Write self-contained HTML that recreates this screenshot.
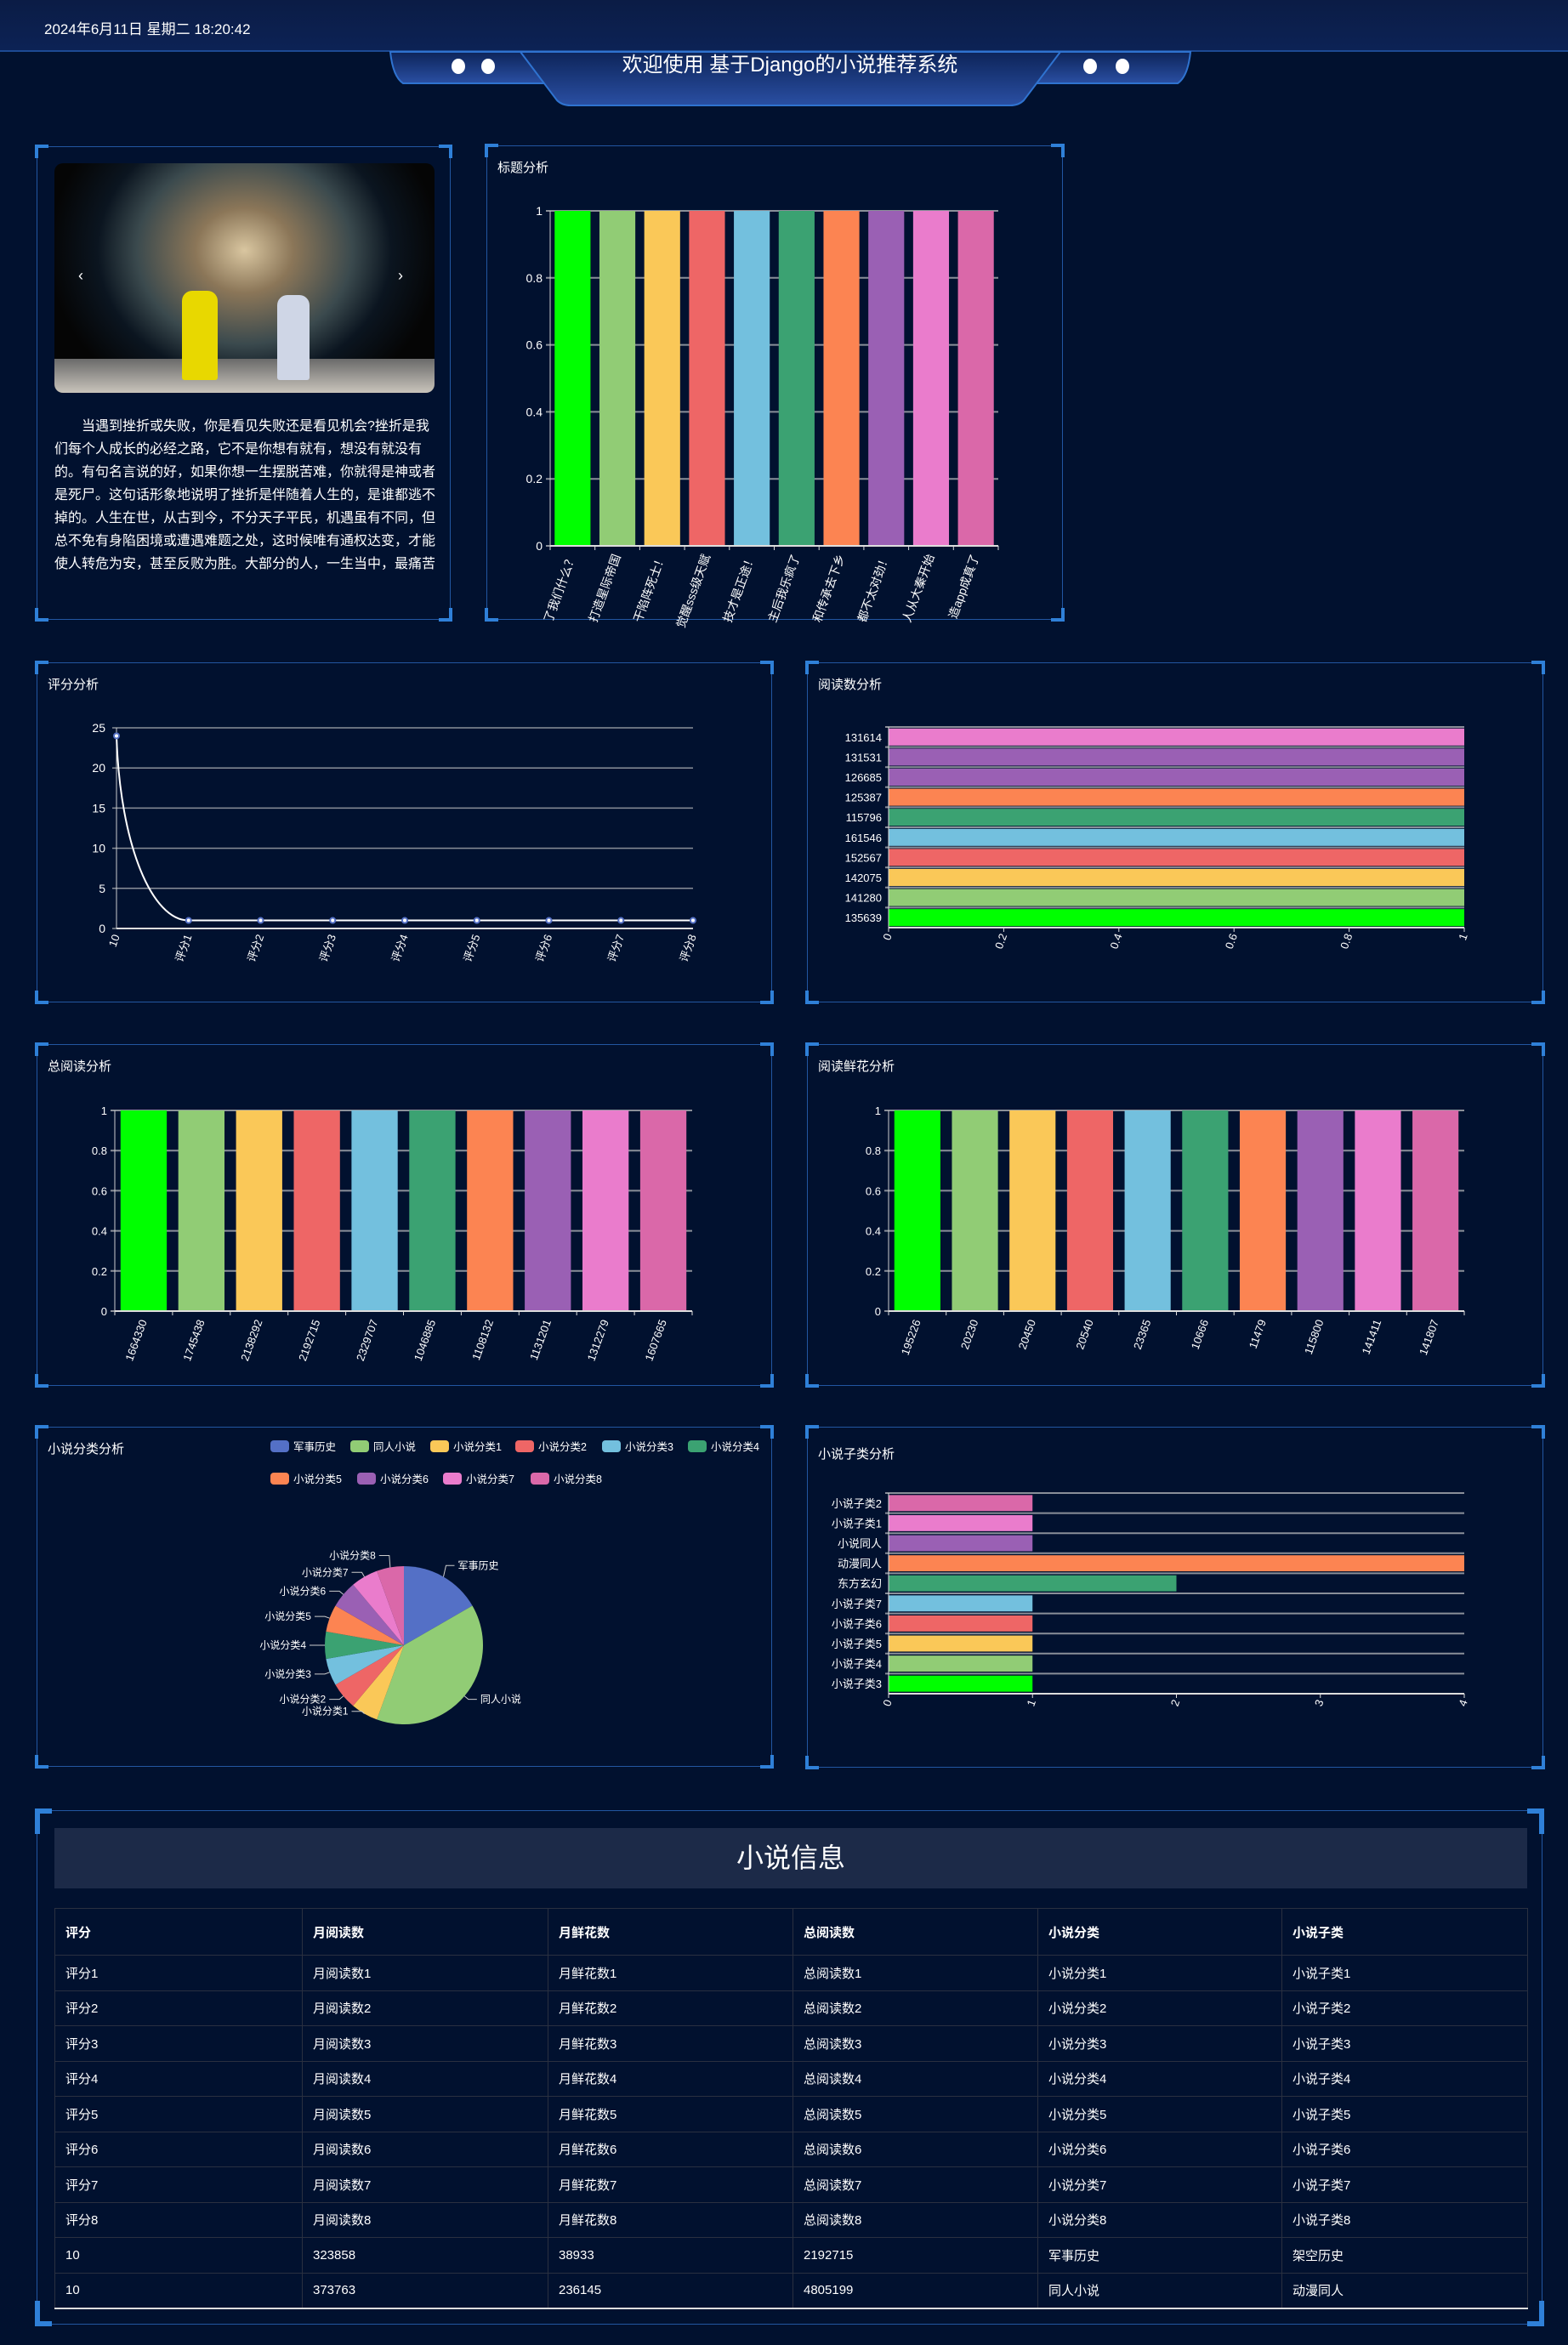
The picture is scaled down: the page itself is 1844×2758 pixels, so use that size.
<!DOCTYPE html>
<html><head><meta charset="utf-8">
<style>
*{margin:0;padding:0;box-sizing:border-box}
body{width:1844px;height:2758px;background:#01112f;font-family:"Liberation Sans","Noto Sans CJK SC",sans-serif;color:#fff;position:relative;overflow:hidden}
.abs{position:absolute}
.panel{position:absolute;border:1px solid rgba(45,110,200,0.75)}
.c{position:absolute;width:16px;height:16px;border-color:#2f80d8;border-style:solid}
.tl{left:-3px;top:-3px;border-width:4px 0 0 4px}
.tr{right:-3px;top:-3px;border-width:4px 4px 0 0}
.bl{left:-3px;bottom:-3px;border-width:0 0 4px 4px}
.br{right:-3px;bottom:-3px;border-width:0 4px 4px 0}
.ptitle{position:absolute;left:12px;top:14px;font-size:15px;color:#fff}
svg text{font-family:"Liberation Sans","Noto Sans CJK SC",sans-serif;fill:#fff}
table{border-collapse:collapse}
td,th{border:1px solid #2a3040;text-align:left;padding-left:12px;font-size:15px;font-weight:normal;height:41.5px}
th{font-weight:bold;height:55px}
</style></head><body>
<div class="abs" style="left:0;top:0;width:1844px;height:61px;background:linear-gradient(#0b1c45,#0c2255);border-bottom:2px solid #1d4a93"></div>
<div class="abs" style="left:52px;top:20px;font-size:17px">2024年6月11日 星期二 18:20:42</div>
<svg class="abs" style="left:0;top:0" width="1844" height="140">
<defs><linearGradient id="hg" x1="0" y1="0" x2="0" y2="1"><stop offset="0" stop-color="#0d2459"/><stop offset="1" stop-color="#2a4fa3"/></linearGradient></defs>
<path d="M459 61 L635 61 L650 98 L474 98 Q462 90 459 61Z" fill="url(#hg)" stroke="#2f73d0" stroke-width="2"/>
<path d="M1224 61 L1400 61 Q1397 90 1385 98 L1209 98Z" fill="url(#hg)" stroke="#2f73d0" stroke-width="2"/>
<path d="M612 61 L1247 61 L1204 118 Q1198 124 1188 124 L671 124 Q661 124 655 118Z" fill="url(#hg)" stroke="#2f73d0" stroke-width="2"/>
<ellipse cx="539" cy="78" rx="8" ry="9" fill="#fff"/><ellipse cx="574" cy="78" rx="8" ry="9" fill="#fff"/>
<ellipse cx="1282" cy="78" rx="8" ry="9" fill="#fff"/><ellipse cx="1320" cy="78" rx="8" ry="9" fill="#fff"/>
</svg>
<div class="abs" style="left:629px;width:600px;top:56px;text-align:center;font-size:24px">欢迎使用 基于Django的小说推荐系统</div>

<div class="panel" style="left:43px;top:172px;width:487px;height:557px">
<div class="c tl"></div><div class="c tr"></div><div class="c bl"></div><div class="c br"></div>
<div class="abs" style="left:20px;top:19px;width:447px;height:270px;border-radius:10px;overflow:hidden;background:radial-gradient(ellipse 230px 200px at 50% 38%,#d9c6a0 0%,#8b7658 25%,#3b4a4e 55%,#0b1520 75%,#050505 100%)">
<div class="abs" style="left:0;bottom:0;width:447px;height:40px;background:linear-gradient(#6a6a6a,#c9c4bb)"></div>
<div class="abs" style="left:150px;top:150px;width:42px;height:105px;background:#e8d800;border-radius:12px 12px 3px 3px"></div>
<div class="abs" style="left:262px;top:155px;width:38px;height:100px;background:#cfd6e6;border-radius:12px 12px 3px 3px"></div>
<div class="abs" style="left:28px;top:122px;font-size:18px">‹</div>
<div class="abs" style="left:404px;top:122px;font-size:18px">›</div>
</div>
<div class="abs" style="left:20px;top:315px;width:460px;height:189px;overflow:hidden;font-size:16px;line-height:27px;white-space:nowrap">&emsp;&emsp;当遇到挫折或失败，你是看见失败还是看见机会?挫折是我<br>们每个人成长的必经之路，它不是你想有就有，想没有就没有<br>的。有句名言说的好，如果你想一生摆脱苦难，你就得是神或者<br>是死尸。这句话形象地说明了挫折是伴随着人生的，是谁都逃不<br>掉的。人生在世，从古到今，不分天子平民，机遇虽有不同，但<br>总不免有身陷困境或遭遇难题之处，这时候唯有通权达变，才能<br>使人转危为安，甚至反败为胜。大部分的人，一生当中，最痛苦</div>
</div>

<div class="panel" style="left:572px;top:171px;width:678px;height:558px"><div class="c tl"></div><div class="c tr"></div><div class="c bl"></div><div class="c br"></div><div class="ptitle">标题分析</div></div>
<div class="panel" style="left:43px;top:779px;width:865px;height:400px"><div class="c tl"></div><div class="c tr"></div><div class="c bl"></div><div class="c br"></div><div class="ptitle">评分分析</div></div>
<div class="panel" style="left:949px;top:779px;width:866px;height:400px"><div class="c tl"></div><div class="c tr"></div><div class="c bl"></div><div class="c br"></div><div class="ptitle">阅读数分析</div></div>
<div class="panel" style="left:43px;top:1228px;width:865px;height:402px"><div class="c tl"></div><div class="c tr"></div><div class="c bl"></div><div class="c br"></div><div class="ptitle">总阅读分析</div></div>
<div class="panel" style="left:949px;top:1228px;width:866px;height:402px"><div class="c tl"></div><div class="c tr"></div><div class="c bl"></div><div class="c br"></div><div class="ptitle">阅读鲜花分析</div></div>
<div class="panel" style="left:43px;top:1678px;width:865px;height:400px"><div class="c tl"></div><div class="c tr"></div><div class="c bl"></div><div class="c br"></div><div class="ptitle">小说分类分析</div></div>
<div class="panel" style="left:949px;top:1678px;width:866px;height:401px"><div class="c tl"></div><div class="c tr"></div><div class="c bl"></div><div class="c br"></div><div class="ptitle" style="top:20px">小说子类分析</div></div>

<svg id="charts" class="abs" style="left:0;top:0" width="1844" height="2100"></svg>

<div class="panel" style="left:43px;top:2129px;width:1771px;height:605px">
<div class="c tl" style="width:20px;height:30px;border-width:6px 0 0 6px"></div><div class="c tr" style="width:20px;height:30px;border-width:6px 6px 0 0"></div><div class="c bl" style="width:20px;height:30px;border-width:0 0 6px 6px"></div><div class="c br" style="width:20px;height:30px;border-width:0 6px 6px 0"></div>
<div class="abs" style="left:20px;top:20px;width:1732px;height:71px;background:#1c2a48;text-align:center;font-size:32px;line-height:71px">小说信息</div>
<table class="abs" style="left:20px;top:114px;width:1733px;border-bottom:2px solid #ddd">
<tr><th style="width:291px">评分</th><th style="width:289px">月阅读数</th><th style="width:288px">月鲜花数</th><th style="width:288px">总阅读数</th><th style="width:287px">小说分类</th><th>小说子类</th></tr>
<tr><td>评分1</td><td>月阅读数1</td><td>月鲜花数1</td><td>总阅读数1</td><td>小说分类1</td><td>小说子类1</td></tr>
<tr><td>评分2</td><td>月阅读数2</td><td>月鲜花数2</td><td>总阅读数2</td><td>小说分类2</td><td>小说子类2</td></tr>
<tr><td>评分3</td><td>月阅读数3</td><td>月鲜花数3</td><td>总阅读数3</td><td>小说分类3</td><td>小说子类3</td></tr>
<tr><td>评分4</td><td>月阅读数4</td><td>月鲜花数4</td><td>总阅读数4</td><td>小说分类4</td><td>小说子类4</td></tr>
<tr><td>评分5</td><td>月阅读数5</td><td>月鲜花数5</td><td>总阅读数5</td><td>小说分类5</td><td>小说子类5</td></tr>
<tr><td>评分6</td><td>月阅读数6</td><td>月鲜花数6</td><td>总阅读数6</td><td>小说分类6</td><td>小说子类6</td></tr>
<tr><td>评分7</td><td>月阅读数7</td><td>月鲜花数7</td><td>总阅读数7</td><td>小说分类7</td><td>小说子类7</td></tr>
<tr><td>评分8</td><td>月阅读数8</td><td>月鲜花数8</td><td>总阅读数8</td><td>小说分类8</td><td>小说子类8</td></tr>
<tr><td>10</td><td>323858</td><td>38933</td><td>2192715</td><td>军事历史</td><td>架空历史</td></tr>
<tr><td>10</td><td>373763</td><td>236145</td><td>4805199</td><td>同人小说</td><td>动漫同人</td></tr>
</table>
</div>

<script>
const titleCats=["了我们什么？","打造星际帝国","干陷阵死士！","觉醒sss级天赋","技才是正途！","主后我乐疯了","和传承去下乡","都不太对劲！","人从大秦开始","造app成真了"];
const titleVals=[1,1,1,1,1,1,1,1,1,1];
const scoreCats=["10","评分1","评分2","评分3","评分4","评分5","评分6","评分7","评分8"];
const scoreVals=[24,1,1,1,1,1,1,1,1];
const scoreTicks=[0,5,10,15,20,25];
const unitTicks=[0,0.2,0.4,0.6,0.8,1];
const readCats=["135639","141280","142075","152567","161546","115796","125387","126685","131531","131614"];
const readVals=[1,1,1,1,1,1,1,1,1,1];
const totalCats=["1664330","1745438","2138292","2192715","2329707","1046885","1108132","1131201","1312279","1607665"];
const totalVals=[1,1,1,1,1,1,1,1,1,1];
const flowerCats=["195226","20230","20450","20540","23365","10666","11479","115800","141411","141807"];
const flowerVals=[1,1,1,1,1,1,1,1,1,1];
const pieCats=["军事历史","同人小说","小说分类1","小说分类2","小说分类3","小说分类4","小说分类5","小说分类6","小说分类7","小说分类8"];
const pieVals=[3,7,1,1,1,1,1,1,1,1];
const subCats=["小说子类3","小说子类4","小说子类5","小说子类6","小说子类7","东方玄幻","动漫同人","小说同人","小说子类1","小说子类2"];
const subVals=[1,1,1,1,1,2,4,1,1,1];
const subTicks=[0,1,2,3,4];

const COLORS=['#00ff00','#91cc75','#fac858','#ee6666','#73c0de','#3ba272','#fc8452','#9a60b4','#ea7ccc','#da68a9'];
const READCOLORS=['#00ff00','#91cc75','#fac858','#ee6666','#73c0de','#3ba272','#fc8452','#9a60b4','#9a60b4','#ea7ccc'];
const PIECOLORS=['#5470c6','#91cc75','#fac858','#ee6666','#73c0de','#3ba272','#fc8452','#9a60b4','#ea7ccc','#da68a9'];
const svg=document.getElementById('charts');
const NS='http://www.w3.org/2000/svg';
function mk(tag,attrs){const e=document.createElementNS(NS,tag);for(const k in attrs)e.setAttribute(k,attrs[k]);svg.appendChild(e);return e;}
function fmt(v){return String(v);}

function vbar(name,cats,vals,ticks,L,R,T,B,colors,fs){
  const max=ticks[ticks.length-1];
  const y=v=>B-(v/max)*(B-T);
  const cw=(R-L)/cats.length;
  ticks.forEach(t=>{
    const g=mk('line',{x1:L-5,x2:R,y1:y(t),y2:y(t),stroke:'#8a8f99','stroke-width':2});
    
    
    const tx=mk('text',{x:L-9,y:y(t)+5,'text-anchor':'end','font-size':fs});
    tx.textContent=fmt(t);
    
    
  });
  const ax=mk('line',{x1:L,x2:L,y1:T,y2:B,stroke:'#ccc','stroke-width':1});
  
  
  vals.forEach((v,i)=>{
    const bw=cw*0.8;
    const r=mk('rect',{x:L+i*cw+(cw-bw)/2,y:y(v),width:bw,height:B-y(v),fill:colors[i]});
    
    
  });
  const xa=mk('line',{x1:L,x2:R,y1:B,y2:B,stroke:'#ddd','stroke-width':2});
  
  
  cats.forEach((c,i)=>{
    const tk=mk('line',{x1:L+i*cw,x2:L+i*cw,y1:B,y2:B+5,stroke:'#ddd'});
    
    
    const cx=L+i*cw+cw/2;
    const tx=mk('text',{x:cx+4,y:B+12,'text-anchor':'end','font-size':fs,transform:`rotate(-70 ${cx+4} ${B+12})`});
    tx.textContent=c;
    
    
  });
  const tk=mk('line',{x1:R,x2:R,y1:B,y2:B+5,stroke:'#ddd'});
  
  
}

function hbar(name,cats,vals,ticks,L,R,T,B,colors,fs,hf){
  const max=ticks[ticks.length-1];
  const x=v=>L+(v/max)*(R-L);
  const ch=(B-T)/cats.length;
  cats.forEach((c,i)=>{
    const yy=B-i*ch-ch;
    const g=mk('line',{x1:L-4,x2:R,y1:yy,y2:yy,stroke:'#8a8f99','stroke-width':2});
    
    
  });
  vals.forEach((v,i)=>{
    const bh=ch*hf;
    const yy=B-i*ch-ch+(ch-bh)/2;
    const r=mk('rect',{x:L,y:yy,width:x(v)-L,height:bh,fill:colors[i]});
    
    
    const tx=mk('text',{x:L-8,y:B-i*ch-ch/2+5,'text-anchor':'end','font-size':fs});
    tx.textContent=cats[i];
    
    
  });
  const ya=mk('line',{x1:L,x2:L,y1:T,y2:B,stroke:'#ddd'});
  
  
  const xa=mk('line',{x1:L,x2:R,y1:B,y2:B,stroke:'#ddd','stroke-width':2});
  
  
  ticks.forEach(t=>{
    const tk=mk('line',{x1:x(t),x2:x(t),y1:B,y2:B+5,stroke:'#ddd'});
    
    
    const tx=mk('text',{x:x(t)+4,y:B+9,'text-anchor':'end','font-size':fs,transform:`rotate(-70 ${x(t)+4} ${B+9})`});
    tx.textContent=fmt(t);
    
    
  });
}

vbar('title-chart',titleCats,titleVals,unitTicks,647,1174,248,642,COLORS,14);
vbar('total-reads-chart',totalCats,totalVals,unitTicks,135,814,1306,1542,COLORS,13);
vbar('flowers-chart',flowerCats,flowerVals,unitTicks,1045,1722,1306,1542,COLORS,13);
hbar('reads-chart',readCats,readVals,unitTicks,1045,1722,855,1091,READCOLORS,13,0.85);
hbar('subcategory-chart',subCats,subVals,subTicks,1045,1722,1756,1992,COLORS,13,0.8);

(function(){
  const L=137,R=815,T=856,B=1092;const max=scoreTicks[scoreTicks.length-1];
  const y=v=>B-(v/max)*(B-T);const step=(R-L)/(scoreCats.length-1);const x=i=>L+i*step;
  scoreTicks.forEach(t=>{
    const g=mk('line',{x1:L-5,x2:R,y1:y(t),y2:y(t),stroke:'#8a8f99','stroke-width':1.5});
    
    
    const tx=mk('text',{x:L-13,y:y(t)+5,'text-anchor':'end','font-size':14});
    tx.textContent=t;
    
    
  });
  const ya=mk('line',{x1:L,x2:L,y1:T,y2:B,stroke:'#ccc'});
  
  
  const xa=mk('line',{x1:L,x2:R,y1:B,y2:B,stroke:'#ddd','stroke-width':2});
  
  
  let d=`M${x(0)},${y(scoreVals[0])}`;
  for(let i=1;i<scoreVals.length;i++){
    const x0=x(i-1),y0=y(scoreVals[i-1]),x1=x(i),y1=y(scoreVals[i]);
    d+=` C${x0+step*0.05},${y0+(y1-y0)*0.6} ${x0+step*0.5},${y1} ${x1},${y1}`;
  }
  const p=mk('path',{d:d,fill:'none',stroke:'#fff','stroke-width':2});
  
  
  scoreVals.forEach((v,i)=>{
    const c=mk('circle',{cx:x(i),cy:y(v),r:3,fill:'#fff',stroke:'#5470c6','stroke-width':2});
    
    
    const tx=mk('text',{x:x(i)+4,y:B+9,'text-anchor':'end','font-size':13,transform:`rotate(-70 ${x(i)+4} ${B+9})`});
    tx.textContent=scoreCats[i];
    
    
  });
})();

(function(){
  const cx=475,cy=1935,r=93;const tot=pieVals.reduce((a,b)=>a+b,0);
  let a=0;
  pieVals.forEach((v,i)=>{
    const a0=a,a1=a+v/tot*2*Math.PI;a=a1;
    const p0=[cx+r*Math.sin(a0),cy-r*Math.cos(a0)],p1=[cx+r*Math.sin(a1),cy-r*Math.cos(a1)];
    const s=mk('path',{d:`M${cx},${cy} L${p0[0]},${p0[1]} A${r},${r} 0 ${a1-a0>Math.PI?1:0} 1 ${p1[0]},${p1[1]}Z`,fill:PIECOLORS[i]});
    
    
    const m=(a0+a1)/2;const e1=[cx+(r+6)*Math.sin(m),cy-(r+6)*Math.cos(m)];
    const right=Math.sin(m)>=0;const ex=e1[0]+(right?10:-12);const ey=e1[1]-(Math.abs(Math.sin(m))<0.5?8:0);
    const ln=mk('polyline',{points:`${cx+r*Math.sin(m)},${cy-r*Math.cos(m)} ${e1[0]},${ey} ${ex},${ey}`,fill:'none',stroke:'#ccc'});
    
    
    const tx=mk('text',{x:ex+(right?4:-4),y:ey+4,'text-anchor':right?'start':'end','font-size':12});
    tx.textContent=pieCats[i];
    
    
  });
  const lx=[318,412,506,606,708,809,318,420,521,624];
  pieCats.forEach((c,i)=>{
    const ly=i<6?1701:1739;
    const rc=mk('rect',{x:lx[i],y:ly-7,width:22,height:14,rx:4,fill:PIECOLORS[i]});
    
    
    const tx=mk('text',{x:lx[i]+27,y:ly+5,'font-size':12.5});
    tx.textContent=c;
    
    
  });
})();
</script>
</body></html>
